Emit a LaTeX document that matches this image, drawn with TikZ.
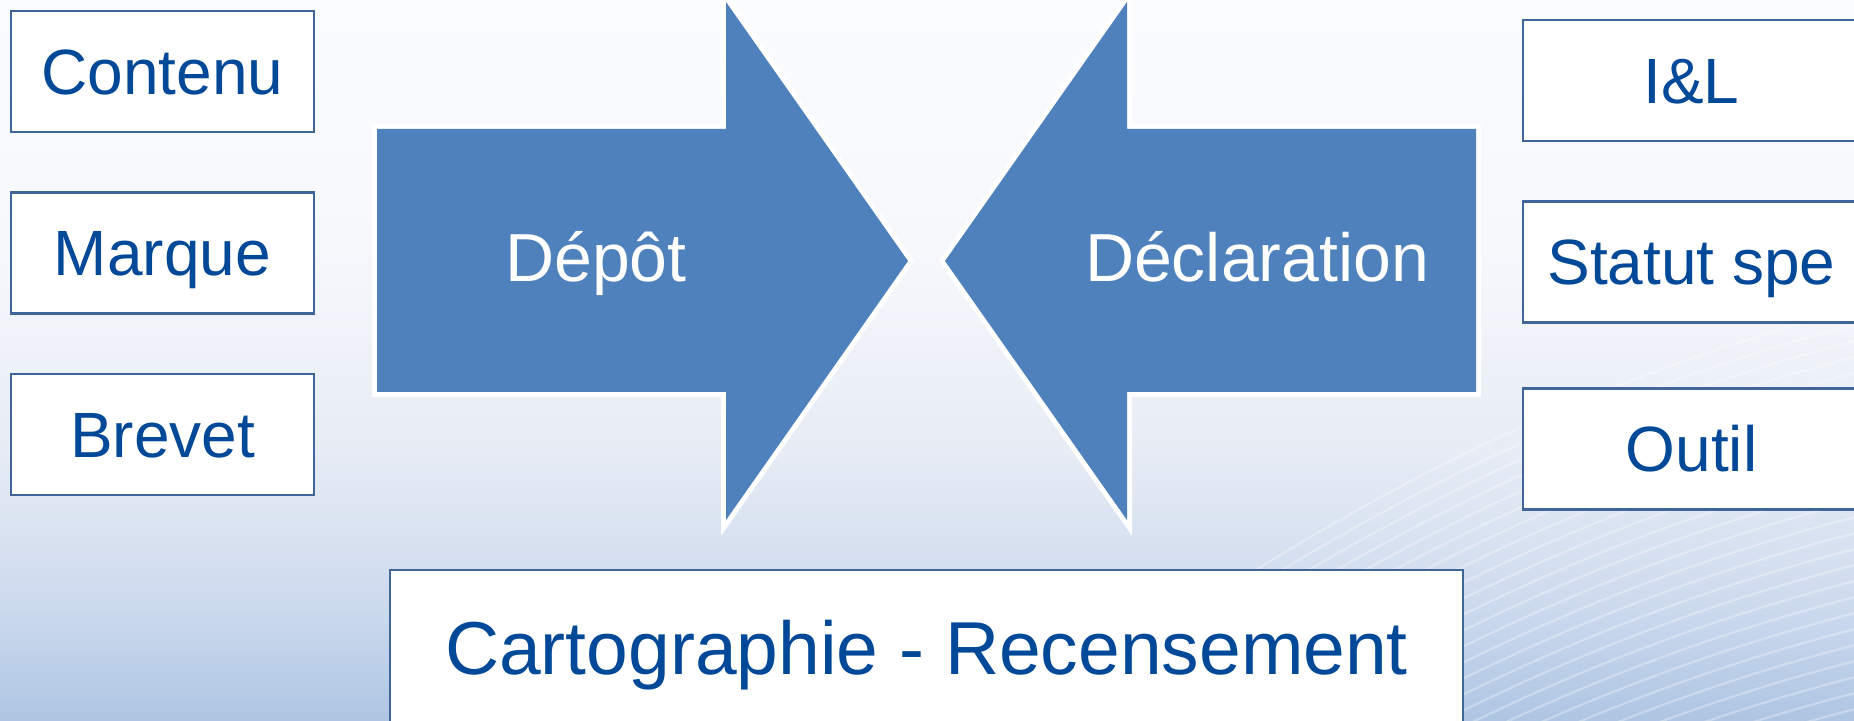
\documentclass[tikz,border=0pt]{standalone}
\usepackage{fontspec}
\setmainfont{Liberation Sans}
\definecolor{bgtop}{HTML}{FBFCFE}
\definecolor{bgb}{HTML}{F6F8FC}
\definecolor{bgc}{HTML}{E7ECF5}
\definecolor{bgd}{HTML}{CEDBEE}
\definecolor{bgbot}{HTML}{AEC5E3}
\definecolor{arrowblue}{HTML}{4F81BD}
\definecolor{textblue}{HTML}{004898}
\definecolor{boxline}{HTML}{3F6599}
\pgfdeclareverticalshading{bgshade}{100bp}{color(0bp)=(bgbot); color(25bp)=(bgbot); color(33.4bp)=(bgd); color(43.8bp)=(bgc); color(57.7bp)=(bgb); color(75bp)=(bgtop); color(100bp)=(bgtop)}
\tikzset{
  boxstyle/.style={draw=boxline, line width=1.3pt, fill=white, text=textblue,
    font=\fontsize{32}{38}\selectfont, inner sep=0pt,
    text height=22.9pt, text depth=0pt, minimum height=60.5pt},
  leftbox/.style={boxstyle, minimum width=151.5pt},
  rightbox/.style={boxstyle, minimum width=168.5pt},
  bigarrow/.style={fill=arrowblue, line join=miter,
    preaction={draw=white, line width=5pt, line join=miter}},
  arrowtext/.style={text=white, font=\fontsize{34}{40}\selectfont, anchor=base, inner sep=0pt},
  streak/.style={draw=white, opacity=0.3, line width=1.1pt}
}
\begin{document}
\begin{tikzpicture}[x=0.5pt, y=-0.5pt]
\useasboundingbox (0,0) rectangle (1854,721);
\clip (0,0) rectangle (1854,721);
% background
\shade[shading=bgshade] (0,0) rectangle (1854,721);
% streaks
\foreach \k in {-7,...,22}{
  \draw[streak] (950,900+16*\k) .. controls (1300,620+16*\k) and (1600,480+16*\k) .. (1900,410+16*\k);
}
% arrows
\path[bigarrow] (377,129) -- (726,129) -- (726,2) -- (908,261) -- (726,520) -- (726,392) -- (377,392) -- cycle;
\path[bigarrow] (1476,129) -- (1127,129) -- (1127,2) -- (945,261) -- (1127,520) -- (1127,392) -- (1476,392) -- cycle;
\node[arrowtext] (depot) at (596,282) {Dépôt};
\node[arrowtext] (decl) at (1257,282) {Déclaration};
% left boxes
\node[leftbox] (contenu) at (162.5,71.5) {Contenu};
\node[leftbox] (marque) at (162.5,253) {Marque};
\node[leftbox] (brevet) at (162.5,434.5) {Brevet};
% right boxes
\node[rightbox] (il) at (1691.5,80.5) {I\&L};
\node[rightbox] (statut) at (1691.5,262) {Statut spe};
\node[rightbox] (outil) at (1691.5,449) {Outil};
% bottom box
\node[boxstyle, minimum width=536.5pt, minimum height=77.5pt,
  font=\fontsize{37.5}{44}\selectfont, text height=26.85pt] (carto) at (926.5,647.5) {Cartographie - Recensement};
\end{tikzpicture}
\end{document}
